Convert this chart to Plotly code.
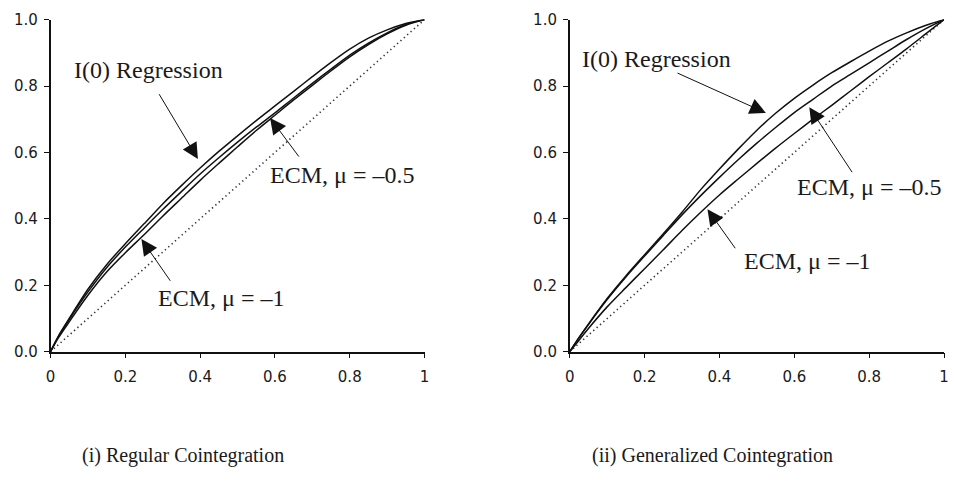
import plotly.graph_objects as go

# ---- data ----
x_grid = [0, 0.02, 0.05, 0.1, 0.15, 0.2, 0.25, 0.3, 0.35, 0.4, 0.45, 0.5,
          0.55, 0.6, 0.65, 0.7, 0.75, 0.8, 0.85, 0.9, 0.95, 1.0]

left_i0 = [0, 0.045, 0.10, 0.188, 0.262, 0.325, 0.385, 0.445, 0.50, 0.553, 0.603, 0.65,
           0.696, 0.74, 0.784, 0.828, 0.871, 0.911, 0.944, 0.969, 0.988, 1.0]
left_ecm05 = [0, 0.043, 0.097, 0.18, 0.253, 0.315, 0.372, 0.428, 0.482, 0.535, 0.584, 0.631,
              0.676, 0.719, 0.764, 0.808, 0.851, 0.893, 0.929, 0.96, 0.985, 1.0]
left_ecm1 = [0, 0.04, 0.09, 0.17, 0.24, 0.298, 0.352, 0.408, 0.462, 0.516, 0.567, 0.617,
             0.666, 0.712, 0.758, 0.802, 0.846, 0.888, 0.925, 0.957, 0.983, 1.0]

right_i0 = [0, 0.035, 0.083, 0.16, 0.228, 0.292, 0.355, 0.42, 0.488, 0.55, 0.61, 0.667,
            0.718, 0.763, 0.803, 0.84, 0.873, 0.905, 0.935, 0.96, 0.982, 1.0]
right_ecm05 = [0, 0.034, 0.082, 0.157, 0.225, 0.288, 0.35, 0.412, 0.47, 0.525, 0.578, 0.628,
               0.675, 0.72, 0.76, 0.8, 0.835, 0.87, 0.905, 0.94, 0.972, 1.0]
right_ecm1 = [0, 0.028, 0.07, 0.135, 0.193, 0.25, 0.307, 0.365, 0.42, 0.472, 0.52, 0.567,
              0.613, 0.657, 0.7, 0.742, 0.785, 0.828, 0.87, 0.912, 0.956, 1.0]

diag = [0, 1]

x_tickvals = [0, 0.2, 0.4, 0.6, 0.8, 1.0]
x_ticktext = ["0", "0.2", "0.4", "0.6", "0.8", "1"]
y_tickvals = [0, 0.2, 0.4, 0.6, 0.8, 1.0]
y_ticktext = ["0.0", "0.2", "0.4", "0.6", "0.8", "1.0"]

captions = ["(i) Regular Cointegration", "(ii) Generalized Cointegration"]
label_i0 = "I(0) Regression"
label_05 = "ECM, \u03bc = \u20130.5"
label_1 = "ECM, \u03bc = \u20131"

# ---- figure ----
fig = go.Figure()
line_style = dict(color="#111111", width=1.5, shape="spline", smoothing=0.8)
dot_style = dict(color="#333333", width=1.6, dash="1.3px,3.2px")

for xa, ya, series in [("x", "y", [left_i0, left_ecm05, left_ecm1]),
                       ("x2", "y2", [right_i0, right_ecm05, right_ecm1])]:
    fig.add_trace(go.Scatter(x=diag, y=diag, mode="lines", line=dot_style,
                             xaxis=xa, yaxis=ya, showlegend=False, hoverinfo="skip"))
    for s in series:
        fig.add_trace(go.Scatter(x=x_grid, y=s, mode="lines", line=line_style,
                                 xaxis=xa, yaxis=ya, showlegend=False))

W, H = 954, 482
left_dom = [46 / W, 424 / W]
right_dom = [570.7 / W, 949 / W]
y_dom = [1 - 356 / H, 1 - 11 / H]

tick_font = dict(family="DejaVu Sans", size=15, color="#1a1a1a")
common = dict(range=[0, 1], showgrid=False, zeroline=False, showline=True,
              linecolor="#111111", linewidth=1.5, ticks="outside", ticklen=5,
              tickwidth=1.3, tickcolor="#111111", tickfont=tick_font, fixedrange=True)
xax = dict(common, tickvals=x_tickvals, ticktext=x_ticktext, ticklabelstandoff=6)
yax = dict(common, tickvals=y_tickvals, ticktext=y_ticktext, ticklabelstandoff=3)

fig.update_layout(
    width=W, height=H,
    margin=dict(l=0, r=0, t=0, b=0),
    paper_bgcolor="white", plot_bgcolor="white",
    xaxis=dict(xax, domain=left_dom, anchor="y"),
    yaxis=dict(yax, domain=y_dom, anchor="x"),
    xaxis2=dict(xax, domain=right_dom, anchor="y2"),
    yaxis2=dict(yax, domain=y_dom, anchor="x2"),
)

serif = dict(family="Liberation Serif", size=24, color="#1a1a1a")
annots = []


def text_ann(xr, yr, x, y, txt):
    annots.append(dict(xref=xr, yref=yr, x=x, y=y, text=txt, showarrow=False,
                       font=serif, xanchor="center", yanchor="middle"))


def arrow_ann(xr, yr, tip, tail):
    annots.append(dict(xref=xr, yref=yr, axref=xr, ayref=yr, x=tip[0], y=tip[1],
                       ax=tail[0], ay=tail[1], text="", showarrow=True,
                       arrowhead=2, arrowsize=3.2, arrowwidth=1, arrowcolor="#111111"))


# left panel
text_ann("x", "y", 0.262, 0.849, label_i0)
arrow_ann("x", "y", (0.394, 0.580), (0.288, 0.780))
text_ann("x", "y", 0.780, 0.533, label_05)
arrow_ann("x", "y", (0.587, 0.704), (0.667, 0.583))
text_ann("x", "y", 0.455, 0.162, label_1)
arrow_ann("x", "y", (0.243, 0.339), (0.323, 0.209))

# right panel
text_ann("x2", "y2", 0.231, 0.881, label_i0)
arrow_ann("x2", "y2", (0.524, 0.719), (0.284, 0.841))
text_ann("x2", "y2", 0.799, 0.496, label_05)
arrow_ann("x2", "y2", (0.640, 0.736), (0.757, 0.536))
text_ann("x2", "y2", 0.633, 0.272, label_1)
arrow_ann("x2", "y2", (0.368, 0.429), (0.445, 0.307))

# captions
cap_font = dict(family="Liberation Serif", size=20, color="#1a1a1a")
annots.append(dict(xref="paper", yref="paper", x=180 / W, y=1 - 464 / H, text=captions[0],
                   showarrow=False, font=cap_font, xanchor="center", yanchor="middle"))
annots.append(dict(xref="paper", yref="paper", x=715 / W, y=1 - 464 / H, text=captions[1],
                   showarrow=False, font=cap_font, xanchor="center", yanchor="middle"))

fig.update_layout(annotations=annots)
fig.write_html("out.html")
